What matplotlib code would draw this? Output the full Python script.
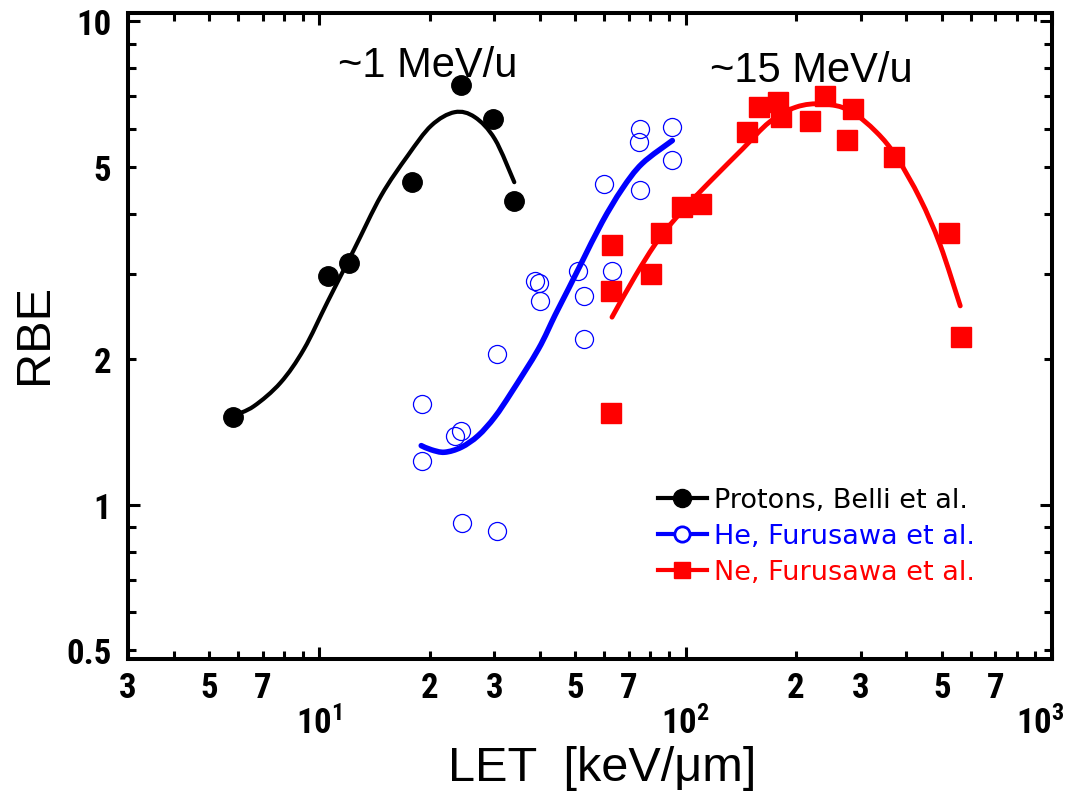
"""
RBE vs LET for protons, He and Ne ions, log-log plot with fitted curves
"""

import numpy as np
import matplotlib
matplotlib.use('Agg')
import matplotlib.pyplot as plt
import matplotlib.transforms as mtransforms
from matplotlib import font_manager
from matplotlib.lines import Line2D
from matplotlib.patches import PathPatch
from matplotlib.path import Path
from matplotlib.ticker import FixedLocator, FixedFormatter

# ---------------------------------------------------------------------------
# Data (LET in keV/um, RBE)
# ---------------------------------------------------------------------------
proton_let = [5.81, 10.56, 12.01, 17.91, 24.29, 29.81, 34.03]
proton_rbe = [1.52, 2.97, 3.16, 4.65, 7.39, 6.28, 4.25]

proton_fit_let = [5.83, 6.62, 7.83, 9.07, 10.52, 12.44, 14.73, 17.43, 20.20, 23.39, 26.54, 30.11, 34.03]
proton_fit_rbe = [1.53, 1.60, 1.79, 2.10, 2.63, 3.38, 4.36, 5.28, 6.09, 6.49, 6.34, 5.71, 4.65]

he_let = [59.7, 75.2, 74.7, 91.5, 91.5, 75.2, 50.7, 62.8, 38.8, 39.8,
          40.0, 52.9, 52.6, 30.5, 19.04, 23.39, 24.29, 19.04, 24.51, 30.5]
he_rbe = [4.60, 5.99, 5.64, 6.06, 5.18, 4.47, 3.05, 3.04, 2.90, 2.88,
          2.64, 2.70, 2.20, 2.05, 1.62, 1.39, 1.42, 1.23, 0.917, 0.884]

he_fit_let = [18.96, 20.20, 21.96, 24.40, 27.12, 30.11, 33.45, 39.60, 43.99, 47.86, 52.06, 59.07, 67.0, 76.0, 91.9]
he_fit_rbe = [1.326, 1.30, 1.285, 1.316, 1.391, 1.52, 1.71, 2.10, 2.47, 2.80, 3.18, 3.84, 4.50, 5.08, 5.67]

ne_let = [62.9, 62.6, 62.6, 80.6, 85.5, 97.9, 109.9, 146.6, 158.9,
          178.4, 182.1, 218.6, 239.4, 286.3, 276.2, 370.9, 523.9, 563.6]
ne_rbe = [3.44, 2.77, 1.55, 3.01, 3.65, 4.13, 4.19, 5.90, 6.65,
          6.81, 6.34, 6.23, 7.00, 6.59, 5.69, 5.24, 3.65, 2.22]

ne_fit_let = [62.9, 72.9, 84.5, 99.9, 118.3, 143.0, 169.2, 200.2, 236.9, 280.4, 331.7, 376.3, 436.2, 494.9, 561.6]
ne_fit_rbe = [2.445, 2.98, 3.55, 4.13, 4.72, 5.45, 6.19, 6.65, 6.75, 6.54, 5.90, 5.24, 4.30, 3.45, 2.58]

legend_labels = ['Protons, Belli et al.', 'He, Furusawa et al.', 'Ne, Furusawa et al.']

# Tick values and labels
x_major_ticks = [10, 100, 1000]
x_major_labels = [r'$\mathrm{10^{1}}$', r'$\mathrm{10^{2}}$', r'$\mathrm{10^{3}}$']
x_minor_ticks = [3, 4, 5, 6, 7, 8, 9,
                 20, 30, 40, 50, 60, 70, 80, 90,
                 200, 300, 400, 500, 600, 700, 800, 900]
x_minor_labels = ['3', '', '5', '', '7', '', '',
                  '2', '3', '', '5', '', '7', '', '',
                  '2', '3', '', '5', '', '7', '', '']
y_major_ticks = [1, 10]
y_major_labels = ['1', '10']
y_minor_ticks = [0.5, 0.6, 0.7, 0.8, 0.9, 2, 3, 4, 5, 6, 7, 8, 9]
y_minor_labels = ['0.5', '', '', '', '', '2', '', '', '5', '', '', '', '']


def pick_narrow_font():
    """ Return a condensed sans family if one is installed """
    names = {f.name for f in font_manager.fontManager.ttflist}
    for n in ['Liberation Sans Narrow', 'DejaVu Sans Condensed', 'Roboto Condensed']:
        if n in names:
            return n, True
    return 'DejaVu Sans', False


def smooth_curve(xs, ys, **kw):
    """ Smooth (Bezier) path through the read fit points, built in log-log space """
    lx, ly = np.log10(xs), np.log10(ys)
    pts = np.column_stack([lx, ly])
    n = len(pts)
    verts = [pts[0]]
    codes = [Path.MOVETO]
    for i in range(n - 1):
        p0, p1 = pts[max(i - 1, 0)], pts[i]
        p2, p3 = pts[i + 1], pts[min(i + 2, n - 1)]
        verts += [p1 + (p2 - p0) / 6.0, p2 - (p3 - p1) / 6.0, p2]
        codes += [Path.CURVE4] * 3
    verts = 10 ** np.array(verts)
    return PathPatch(Path(verts, codes), fill=False, **kw)


def main():
    narrow, found = pick_narrow_font()
    tick_size = 25 if found else 19

    plt.rcParams['mathtext.fontset'] = 'custom'
    plt.rcParams['mathtext.rm'] = narrow + ':bold'
    plt.rcParams['mathtext.it'] = narrow + ':bold'
    plt.rcParams['mathtext.bf'] = narrow + ':bold'

    fig = plt.figure(figsize=(10.7, 8.03), dpi=100)
    ax = fig.add_axes([0.1196, 0.1781, 0.8636, 0.8045])

    # Fitted curves first, data markers on top
    ax.add_patch(smooth_curve(proton_fit_let, proton_fit_rbe, edgecolor='black', lw=3.0,
                              capstyle='round', zorder=2))
    ax.add_patch(smooth_curve(he_fit_let, he_fit_rbe, edgecolor='blue', lw=4.0,
                              capstyle='round', zorder=2))
    ax.add_patch(smooth_curve(ne_fit_let, ne_fit_rbe, edgecolor='red', lw=3.5,
                              capstyle='round', zorder=2))

    ax.plot(proton_let, proton_rbe, 'o', color='black', ms=14, mec='black', zorder=3)
    ax.plot(he_let, he_rbe, 'o', mfc='none', mec='blue', mew=0.9, ms=13, zorder=3)
    ax.plot(ne_let, ne_rbe, 's', color='red', ms=14, mec='red', zorder=3)

    ax.set_xscale('log')
    ax.set_yscale('log')
    ax.set_xlim(3, 1000)
    ax.set_ylim(0.48, 10.41)

    # Ticks
    ax.xaxis.set_major_locator(FixedLocator(x_major_ticks))
    ax.xaxis.set_major_formatter(FixedFormatter(x_major_labels))
    ax.xaxis.set_minor_locator(FixedLocator(x_minor_ticks))
    ax.xaxis.set_minor_formatter(FixedFormatter(x_minor_labels))
    ax.yaxis.set_major_locator(FixedLocator(y_major_ticks))
    ax.yaxis.set_major_formatter(FixedFormatter(y_major_labels))
    ax.yaxis.set_minor_locator(FixedLocator(y_minor_ticks))
    ax.yaxis.set_minor_formatter(FixedFormatter(y_minor_labels))

    ax.tick_params(which='both', direction='in', top=True, right=True, width=2.2,
                   labelsize=tick_size)
    ax.tick_params(which='major', length=8.6)
    ax.tick_params(which='minor', length=5.8)
    ax.tick_params(axis='x', which='minor', pad=9)
    ax.tick_params(axis='x', which='major', pad=33)
    ax.tick_params(axis='y', which='both', pad=12)

    fig.canvas.draw()
    for lab in ax.get_xticklabels(which='both') + ax.get_yticklabels(which='both'):
        lab.set_fontfamily(narrow)
        lab.set_fontweight('bold')

    # the 10^3 label sits a bit left of its tick so it stays inside the figure
    last = ax.xaxis.get_major_ticks()[-1].label1
    last.set_transform(last.get_transform() +
                       mtransforms.ScaledTranslation(-0.12, 0, fig.dpi_scale_trans))

    for sp in ax.spines.values():
        sp.set_linewidth(2.9)

    # Axis titles
    fig.text(0.0327, 0.584, 'RBE', rotation=90, ha='center', va='center',
             fontsize=35, family='Liberation Sans')
    fig.text(0.5626, 0.043, 'LET  [keV/μm]', ha='center', va='center',
             fontsize=35, family='Liberation Sans')

    # Energy annotations
    ax.text(11.2, 7.72, '~1 MeV/u', fontsize=30, family='Liberation Sans', va='baseline')
    ax.text(116.8, 7.53, '~15 MeV/u', fontsize=30, family='Liberation Sans', va='baseline')

    # Legend
    handles = [Line2D([], [], color='black', lw=3, marker='o', ms=13, mfc='black'),
               Line2D([], [], color='blue', lw=3, marker='o', ms=11, mfc='white', mew=2),
               Line2D([], [], color='red', lw=3, marker='s', ms=11, mfc='red')]
    ax.legend(handles, legend_labels, loc='upper left', bbox_to_anchor=(0.5736, 0.266),
              frameon=False, prop={'family': 'DejaVu Sans', 'size': 19.5},
              handlelength=1.8, handletextpad=0.25, labelspacing=0.37,
              borderpad=0, borderaxespad=0, labelcolor=['black', 'blue', 'red'])

    fig.savefig('out.png', dpi=100)


if __name__ == '__main__':
    main()
